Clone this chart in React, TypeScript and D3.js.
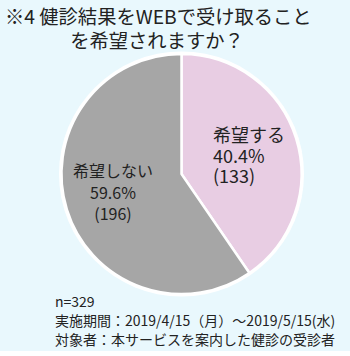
import React from "react";
import * as d3 from "d3";

const categories = ["希望する", "希望しない"];
const values = [133, 196];
const percents = ["40.4%", "59.6%"];
const counts = ["(133)", "(196)"];
const titleLines = ["※4 健診結果をWEBで受け取ること", "を希望されますか？"];
const noteLines = [
  "n=329",
  "実施期間：2019/4/15（月）～2019/5/15(水)",
  "対象者：本サービスを案内した健診の受診者",
];

const W = 350;
const H = 356;
const colors = ["#e8cde3", "#a6a6a6"];
const font = "'Noto Sans CJK JP', 'Noto Sans', sans-serif";

export default function App() {
  const cx = 181.5;
  const cy = 174;
  const r = 120;
  const pie = d3.pie<number>().sort(null).value((d) => d);
  const arcs = pie(values);
  const arc = d3.arc<d3.PieArcDatum<number>>().innerRadius(0).outerRadius(r);

  return (
    <div style={{ position: "fixed", left: 0, top: 0 }}>
      <svg width={W} height={H} style={{ display: "block" }}>
        <rect x={0} y={0} width={W} height={351} fill="#e9f8fd" />
        <rect x={0} y={351} width={W} height={H - 351} fill="#ffffff" />
        {titleLines.map((t, i) => (
          <text
            key={i}
            x={i === 0 ? 5 : 157}
            y={i === 0 ? 24 : 48}
            textAnchor={i === 0 ? "start" : "middle"}
            fontFamily={font}
            fontSize={19.3}
            fill="#222"
          >
            {t}
          </text>
        ))}
        <circle cx={cx} cy={cy} r={r + 2.5} fill="#ffffff" />
        <g transform={`translate(${cx},${cy})`}>
          {arcs.map((a, i) => (
            <path
              key={i}
              d={arc(a) || ""}
              fill={colors[i]}
              stroke="#ffffff"
              strokeWidth={2.5}
              strokeLinejoin="round"
            />
          ))}
        </g>
        {[categories[0], percents[0], counts[0]].map((t, i) => (
          <text
            key={"r" + i}
            x={213}
            y={142 + i * 20.5}
            fontFamily={font}
            fontSize={18}
            fill="#222"
          >
            {t}
          </text>
        ))}
        {[categories[1], percents[1], counts[1]].map((t, i) => (
          <text
            key={"l" + i}
            x={113}
            y={177 + i * 21.5}
            textAnchor="middle"
            fontFamily={font}
            fontSize={16}
            fill="#222"
          >
            {t}
          </text>
        ))}
        {noteLines.map((t, i) => (
          <text
            key={"n" + i}
            x={55}
            y={307 + i * 19}
            fontFamily={font}
            fontSize={14}
            fill="#222"
          >
            {t}
          </text>
        ))}
      </svg>
    </div>
  );
}
